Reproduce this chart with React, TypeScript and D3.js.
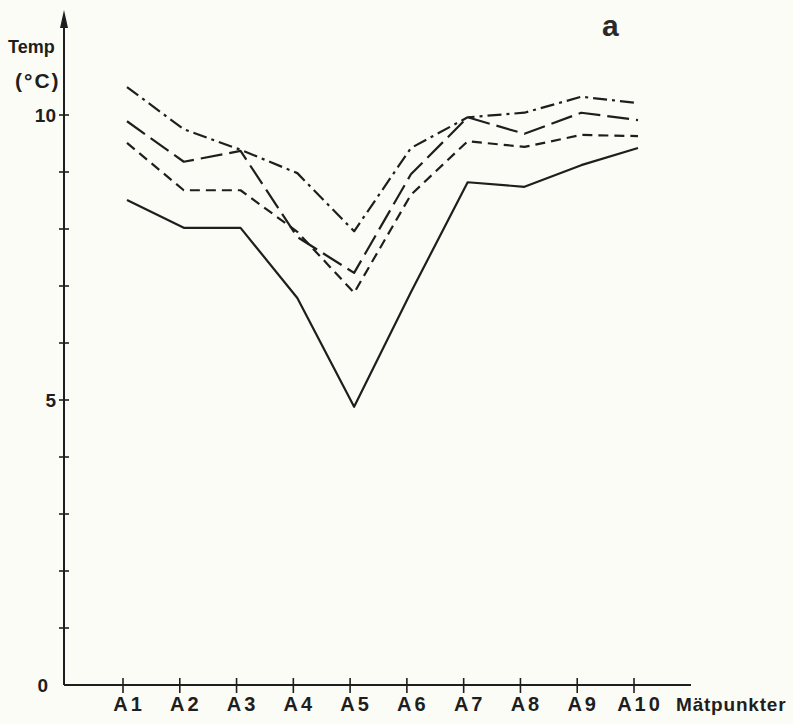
import React, { useEffect, useRef } from 'react';
import * as d3 from 'd3';

// Mätpunkter (x-axeln)
const categories = ['A1', 'A2', 'A3', 'A4', 'A5', 'A6', 'A7', 'A8', 'A9', 'A10'];

// Temperaturer (°C), fyra serier
const solidSeries = [8.51, 8.02, 8.02, 6.79, 4.88, 6.89, 8.82, 8.74, 9.12, 9.42];
const shortDashSeries = [9.51, 8.68, 8.68, 7.95, 6.88, 8.6, 9.54, 9.44, 9.65, 9.63];
const longDashSeries = [9.89, 9.18, 9.37, 7.86, 7.23, 8.96, 9.96, 9.67, 10.04, 9.91];
const dashDotSeries = [10.49, 9.75, 9.39, 8.98, 7.96, 9.42, 9.96, 10.04, 10.32, 10.21];

const yTicks = [0, 1, 2, 3, 4, 5, 6, 7, 8, 9, 10];
const yLabels = [0, 5, 10];

const App = () => {
    const svgRef = useRef<SVGSVGElement>(null);

    useEffect(() => {
        const W = 793;
        const H = 724;
        const svg = d3.select(svgRef.current);
        svg.selectAll('*').remove();
        svg.attr('width', W).attr('height', H);

        const ink = '#1e1e1e';
        const font = '"Liberation Sans", "DejaVu Sans", sans-serif';

        svg.append('rect').attr('width', W).attr('height', H).attr('fill', '#fcfcf6');

        // Skalor
        const x = d3.scalePoint<string>().domain(categories).range([127, 638]);
        const y = d3.scaleLinear().domain([0, 10]).range([685, 115]);
        const axisX = 64;

        // Y-axel med pil
        svg.append('line')
            .attr('x1', axisX).attr('x2', axisX)
            .attr('y1', y(0)).attr('y2', 16)
            .attr('stroke', ink).attr('stroke-width', 2);
        svg.append('path')
            .attr('d', `M${axisX - 4},28 L${axisX},10 L${axisX + 4},28 Z`)
            .attr('fill', ink);

        svg.selectAll('.ytick')
            .data(yTicks.filter(d => d > 0))
            .enter().append('line')
            .attr('class', 'ytick')
            .attr('x1', axisX - 5).attr('x2', axisX + 5)
            .attr('y1', d => y(d)).attr('y2', d => y(d))
            .attr('stroke', ink).attr('stroke-width', 1.6);

        svg.selectAll('.ylabel')
            .data(yLabels)
            .enter().append('text')
            .attr('class', 'ylabel')
            .attr('x', d => (d === 0 ? 48 : 56))
            .attr('y', d => y(d))
            .attr('dy', '0.36em')
            .attr('text-anchor', 'end')
            .style('font-family', font)
            .style('font-weight', 'bold')
            .style('font-size', '19px')
            .style('fill', ink)
            .text(d => d);

        // X-axel
        svg.append('line')
            .attr('x1', axisX).attr('x2', 691)
            .attr('y1', y(0)).attr('y2', y(0))
            .attr('stroke', ink).attr('stroke-width', 2);

        svg.selectAll('.xtick')
            .data(categories)
            .enter().append('line')
            .attr('class', 'xtick')
            .attr('x1', d => x(d)! - 4).attr('x2', d => x(d)! - 4)
            .attr('y1', y(0) - 7).attr('y2', y(0) + 8)
            .attr('stroke', ink).attr('stroke-width', 1.6);

        svg.selectAll('.xlabel')
            .data(categories)
            .enter().append('text')
            .attr('class', 'xlabel')
            .attr('x', d => x(d)! + 2)
            .attr('y', 711)
            .attr('text-anchor', 'middle')
            .style('font-family', font)
            .style('font-weight', 'bold')
            .style('font-size', '20px')
            .style('letter-spacing', '3px')
            .style('fill', ink)
            .text(d => d);

        svg.append('text')
            .attr('x', 676).attr('y', 711)
            .style('font-family', font)
            .style('font-weight', 'bold')
            .style('font-size', '19px')
            .style('letter-spacing', '0.8px')
            .style('fill', ink)
            .text('Mätpunkter');

        // Axeltitel och panelbokstav
        svg.append('text')
            .attr('x', 8).attr('y', 53)
            .style('font-family', font)
            .style('font-weight', 'bold')
            .style('font-size', '18px')
            .style('fill', ink)
            .text('Temp');
        svg.append('text')
            .attr('x', 15).attr('y', 88)
            .style('font-family', font)
            .style('font-weight', 'bold')
            .style('font-size', '21px')
            .style('letter-spacing', '2px')
            .style('fill', ink)
            .text('(°C)');
        svg.append('text')
            .attr('x', 602).attr('y', 36)
            .style('font-family', font)
            .style('font-weight', 'bold')
            .style('font-size', '30px')
            .style('fill', '#2a2a2a')
            .text('a');

        // Linjer
        const series = [
            { values: solidSeries, dash: null },
            { values: shortDashSeries, dash: '10,6' },
            { values: longDashSeries, dash: '22,7' },
            { values: dashDotSeries, dash: '14,5,3,5' },
        ];

        const line = d3.line<number>()
            .x((d, i) => x(categories[i])!)
            .y(d => y(d));

        svg.selectAll('.series')
            .data(series)
            .enter().append('path')
            .attr('class', 'series')
            .attr('d', d => line(d.values))
            .attr('fill', 'none')
            .attr('stroke', ink)
            .attr('stroke-width', 2.2)
            .attr('stroke-linejoin', 'round')
            .attr('stroke-dasharray', d => d.dash);
    }, []);

    return (
        <svg ref={svgRef} style={{ position: 'absolute', left: 0, top: 0 }}></svg>
    );
};

export default App;
